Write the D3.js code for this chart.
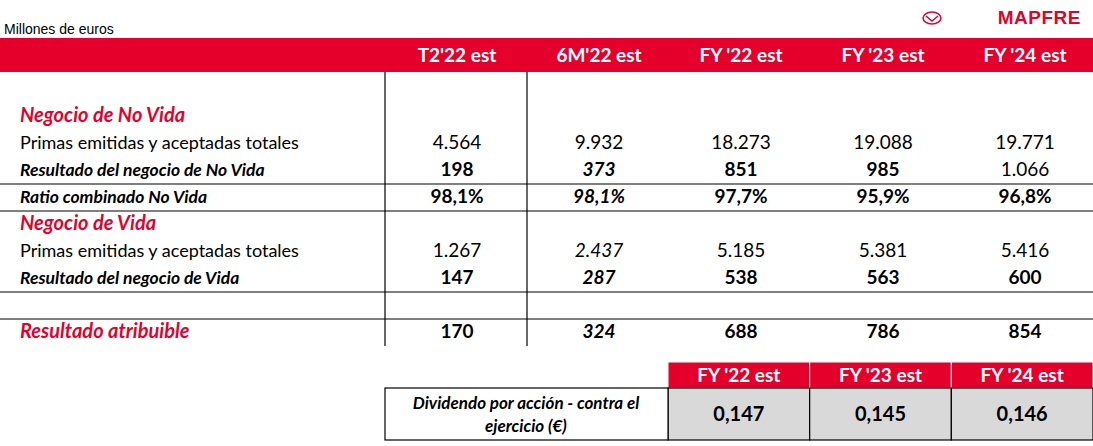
<!DOCTYPE html><html><head><meta charset="utf-8"><script src="https://cdn.jsdelivr.net/npm/d3@7"></script>
<style>body{margin:0;background:#fff}</style></head><body><svg id="c" width="1093" height="446"></svg><script>
const columns=["T2'22 est","6M'22 est","FY '22 est","FY '23 est","FY '24 est"];
const rowLabels=["Negocio de No Vida","Primas emitidas y aceptadas totales","Resultado del negocio de No Vida","Ratio combinado No Vida","Negocio de Vida","Primas emitidas y aceptadas totales","Resultado del negocio de Vida","","Resultado atribuible"];
const rowStyles=["sec","n","bi","bi","sec","n","bi","n","secb"];
const values=[
 ["","","","",""],
 ["4.564","9.932","18.273","19.088","19.771"],
 ["198","373","851","985","1.066"],
 ["98,1%","98,1%","97,7%","95,9%","96,8%"],
 ["","","","",""],
 ["1.267","2.437","5.185","5.381","5.416"],
 ["147","287","538","563","600"],
 ["","","","",""],
 ["170","324","688","786","854"]];
const boldCells=[[],[],[1,1,1,1,0],[1,1,1,1,1],[],[0,0,0,0,0],[1,1,1,1,1],[],[1,1,1,1,1]];
const italicCol=1; const italicRows=[2,3,5,6,8];
const divCols=["FY '22 est","FY '23 est","FY '24 est"];
const divValues=["0,147","0,145","0,146"];
const RED="#e4002b";
const svg=d3.select("#c");
const F="Lato, 'Open Sans', sans-serif";
svg.append("text").attr("x",4).attr("y",34).attr("font-family","Liberation Sans, Arial").attr("font-size",14).text("Millones de euros");
svg.append("text").attr("x",1081).attr("y",24).attr("text-anchor","end").attr("font-family","Liberation Sans, Arial").attr("font-weight",900).attr("font-size",19).attr("fill",RED).attr("letter-spacing",0.5).text("MAPFRE");
svg.append("ellipse").attr("cx",932).attr("cy",18).attr("rx",9).attr("ry",6).attr("fill","none").attr("stroke",RED).attr("stroke-width",1.5);
svg.append("path").attr("d","M926,16 L932,21 L938,16").attr("fill","none").attr("stroke",RED).attr("stroke-width",1.5);
const x=d3.scalePoint().domain(columns).range([457,1025]);
svg.append("rect").attr("x",0).attr("y",38).attr("width",1093).attr("height",34).attr("fill",RED);
columns.forEach(c=>svg.append("text").attr("x",x(c)).attr("y",62).attr("text-anchor","middle").attr("fill","#fff").attr("font-family",F).attr("font-weight",700).attr("font-size",19).text(c));
const y=d3.scalePoint().domain(d3.range(rowLabels.length)).range([115,331]);
// lines
[184,211,292,319].forEach(v=>svg.append("line").attr("x1",0).attr("x2",1093).attr("y1",v).attr("y2",v).attr("stroke","#000").attr("stroke-width",1.2));
[385,527].forEach(v=>svg.append("line").attr("x1",v).attr("x2",v).attr("y1",72).attr("y2",346).attr("stroke","#000").attr("stroke-width",1.2));
rowLabels.forEach((l,i)=>{
 const s=rowStyles[i];
 const t=svg.append("text").attr("x",20).attr("y",y(i)+7).attr("font-family",F).text(l);
 if(s==="sec"){t.attr("fill",RED).attr("font-style","italic").attr("font-weight",700).attr("font-size",20);}
 else if(s==="secb"){t.attr("fill",RED).attr("font-style","italic").attr("font-weight",700).attr("font-size",20);}
 else if(s==="bi"){t.attr("font-style","italic").attr("font-weight",700).attr("font-size",17.5);}
 else t.attr("font-size",18);
 values[i].forEach((v,j)=>{ if(!v)return;
  svg.append("text").attr("x",x(columns[j])).attr("y",y(i)+7).attr("text-anchor","middle").attr("font-family",F).attr("font-size",19)
   .attr("font-weight",boldCells[i][j]?700:400).attr("font-style",(j===italicCol&&italicRows.includes(i))?"italic":"normal").text(v);});
});
// dividend table
const xd=d3.scaleBand().domain(divCols).range([668,1093]);
divCols.forEach((c,j)=>{
 svg.append("rect").attr("x",xd(c)).attr("y",362).attr("width",xd.bandwidth()).attr("height",26).attr("fill",RED).attr("stroke","#fff").attr("stroke-width",1);
 svg.append("text").attr("x",xd(c)+xd.bandwidth()/2).attr("y",382).attr("text-anchor","middle").attr("fill","#fff").attr("font-family",F).attr("font-weight",700).attr("font-size",19).text(c);
 svg.append("rect").attr("x",xd(c)).attr("y",388).attr("width",xd.bandwidth()).attr("height",52).attr("fill","#d9d9d9").attr("stroke","#000").attr("stroke-width",1.2);
 svg.append("text").attr("x",xd(c)+xd.bandwidth()/2).attr("y",421).attr("text-anchor","middle").attr("font-family",F).attr("font-weight",700).attr("font-size",20).text(divValues[j]);
});
svg.append("rect").attr("x",385).attr("y",388).attr("width",283).attr("height",52).attr("fill","#fff").attr("stroke","#000").attr("stroke-width",1.2);
svg.append("text").attr("x",526).attr("y",409).attr("text-anchor","middle").attr("font-family",F).attr("font-weight",700).attr("font-style","italic").attr("font-size",17).text("Dividendo por acción - contra el");
svg.append("text").attr("x",526).attr("y",432).attr("text-anchor","middle").attr("font-family",F).attr("font-weight",700).attr("font-style","italic").attr("font-size",17).text("ejercicio (€)");
</script></body></html>
